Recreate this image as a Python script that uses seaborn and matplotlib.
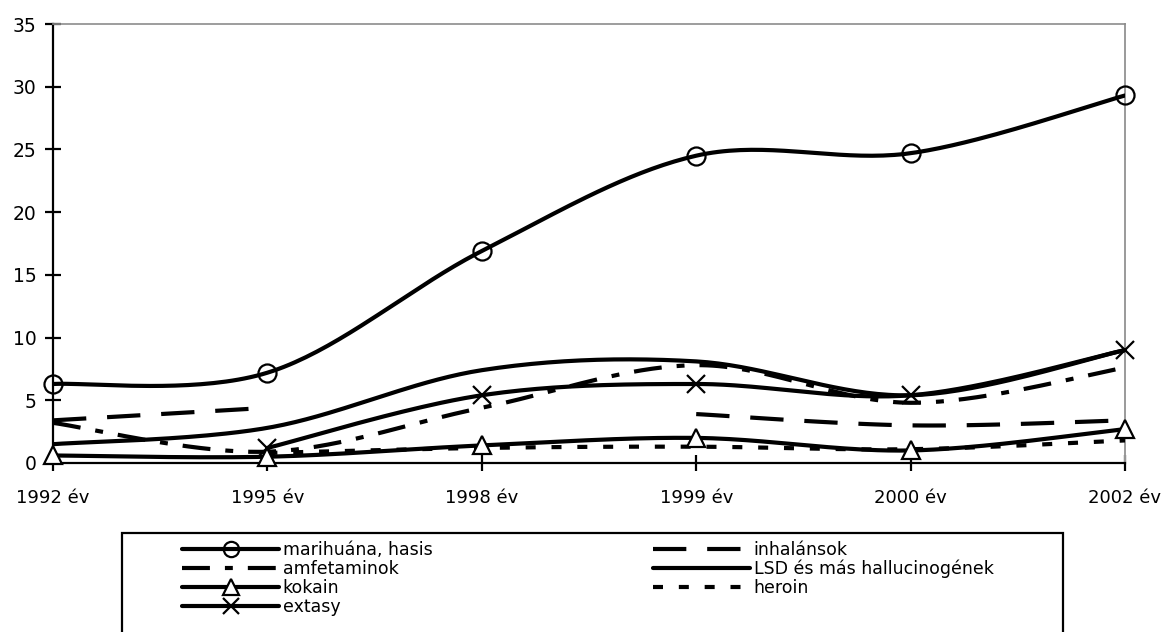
import numpy as np
import matplotlib
matplotlib.use("Agg")
import matplotlib.pyplot as plt
import seaborn as sns
from matplotlib.lines import Line2D
from matplotlib.patches import Rectangle

sns.set_style("white")
plt.rcParams["font.family"] = ["DejaVu Sans"]
plt.rcParams["text.color"] = "black"
plt.rcParams["xtick.color"] = "black"
plt.rcParams["ytick.color"] = "black"
plt.rcParams["xtick.labelcolor"] = "black"
plt.rcParams["ytick.labelcolor"] = "black"

# ---- data ----
years = ["1992 év", "1995 év", "1998 év", "1999 év", "2000 év", "2002 év"]
marihuana = [6.3, 7.2, 16.9, 24.5, 24.7, 29.3]
inhalansok = [3.4, 4.4, np.nan, 3.9, 3.0, 3.4]
amfetaminok = [3.2, 0.9, 4.4, 7.8, 4.8, 7.6]
lsd = [1.5, 2.8, 7.4, 8.1, 5.4, 9.0]
kokain = [0.6, 0.5, 1.4, 2.0, 1.0, 2.7]
heroin = [np.nan, 0.8, 1.2, 1.3, 1.1, 1.8]
extasy = [np.nan, 1.2, 5.4, 6.3, 5.4, 9.0]
y_ticks = [0, 5, 10, 15, 20, 25, 30, 35]

LW = 3.0
series = [
    ("marihuána, hasis", marihuana, dict(ls="-", marker="o", mfc="none")),
    ("inhalánsok", inhalansok, dict(ls=(0, (8, 5)), marker=None, mfc=None)),
    ("amfetaminok", amfetaminok, dict(ls=(0, (6.7, 3.6, 1.9, 3.6)), marker=None, mfc=None)),
    ("LSD és más hallucinogének", lsd, dict(ls="-", marker=None, mfc=None)),
    ("kokain", kokain, dict(ls="-", marker="^", mfc="white")),
    ("heroin", heroin, dict(ls=(0, (2.4, 3.8)), marker=None, mfc=None)),
    ("extasy", extasy, dict(ls="-", marker="x", mfc="none")),
]


def smooth_segments(xs, ys, n=40):
    """Excel-like smoothed Bezier curves through the points (split at gaps)."""
    segs, cur = [], []
    for x, y in zip(xs, ys):
        if np.isnan(y):
            if cur:
                segs.append(cur)
            cur = []
        else:
            cur.append((x, y))
    if cur:
        segs.append(cur)
    curves = []
    t = np.linspace(0, 1, n)[:, None]
    for seg in segs:
        P = np.array(seg, float)
        m = len(P)
        if m == 1:
            curves.append(P)
            continue
        pts = []
        for i in range(m - 1):
            p0 = P[max(i - 1, 0)]
            p1 = P[i]
            p2 = P[i + 1]
            p3 = P[min(i + 2, m - 1)]
            c1 = p1 + (p2 - p0) / 6.0
            c2 = p2 - (p3 - p1) / 6.0
            b = ((1 - t) ** 3) * p1 + 3 * ((1 - t) ** 2) * t * c1 + 3 * (1 - t) * t ** 2 * c2 + t ** 3 * p2
            pts.append(b if i == 0 else b[1:])
        curves.append(np.vstack(pts))
    return curves


W, H = 1166, 632
fig = plt.figure(figsize=(W / 100, H / 100), dpi=100)
ax = fig.add_axes([53 / W, 1 - 463 / H, (1125 - 53) / W, (463 - 24) / H])

xs = np.arange(len(years))
handles = {}
for name, vals, st in series:
    vals = np.array(vals, float)
    for c in smooth_segments(xs, vals):
        sns.lineplot(x=c[:, 0], y=c[:, 1], ax=ax, color="black", lw=LW,
                     linestyle=st["ls"], sort=False, estimator=None, zorder=3)
    if st["marker"]:
        ok = ~np.isnan(vals)
        ax.plot(xs[ok], vals[ok], linestyle="none", marker=st["marker"], ms=13,
                mfc=st["mfc"], mec="black", mew=1.6, zorder=4, clip_on=False)
    handles[name] = Line2D([], [], color="black", lw=LW, linestyle=st["ls"],
                           marker=st["marker"] if st["marker"] else None, ms=11,
                           mfc=st["mfc"] if st["mfc"] else "none", mec="black", mew=1.6)

ax.set_xlim(0, len(years) - 1)
ax.set_ylim(0, 35)
ax.set_xticks(xs)
ax.set_xticklabels(years, fontsize=13)
ax.set_yticks(y_ticks)
ax.set_yticklabels([str(v) for v in y_ticks], fontsize=13.5)
ax.tick_params(axis="both", direction="inout", length=12, width=1.6, color="black",
               labelcolor="black", bottom=True, left=True, top=False, right=False)
ax.tick_params(axis="x", pad=13)
ax.tick_params(axis="y", pad=6)
ax.set_xlabel("")
ax.set_ylabel("")

for side in ["left", "bottom"]:
    ax.spines[side].set_color("black")
    ax.spines[side].set_linewidth(1.6)
ax.spines["top"].set_color("#8c8c8c")
ax.spines["top"].set_linewidth(1.2)
ax.spines["right"].set_color("#9a9a9a")
ax.spines["right"].set_linewidth(1.4)
ax.grid(False)

# legend frame (extends below the figure edge like the reference)
fig.patches.append(Rectangle((122 / W, -0.1), (1063 - 122) / W, 0.1 + (1 - 533 / H),
                             transform=fig.transFigure, fill=False, ec="black", lw=1.6))

col1 = ["marihuána, hasis", "amfetaminok", "kokain", "extasy"]
col2 = ["inhalánsok", "LSD és más hallucinogének", "heroin"]
common = dict(frameon=False, loc="upper left", borderpad=0, borderaxespad=0,
              handlelength=5.6, handletextpad=0.2, labelspacing=0.05,
              fontsize=12.5, bbox_transform=fig.transFigure, labelcolor="black")
leg1 = fig.legend([handles[n] for n in col1], col1, bbox_to_anchor=(182 / W, 1 - 541 / H), **common)
leg2 = fig.legend([handles[n] for n in col2], col2, bbox_to_anchor=(653 / W, 1 - 541 / H), **common)

fig.savefig("out.png", dpi=100)
